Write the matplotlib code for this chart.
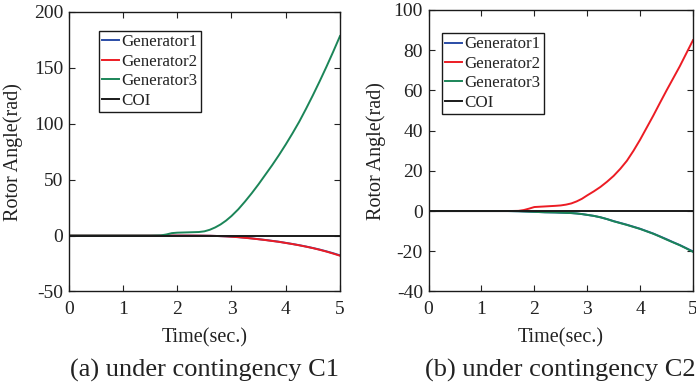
import matplotlib
matplotlib.use('Agg')
import matplotlib.pyplot as plt

plt.rcParams['font.family'] = ['Liberation Serif', 'DejaVu Serif']
plt.rcParams['axes.unicode_minus'] = False
plt.rcParams['text.color'] = '#222222'
plt.rcParams['axes.labelcolor'] = '#222222'
plt.rcParams['xtick.color'] = '#222222'
plt.rcParams['ytick.color'] = '#222222'

# time axis (sec.)
t = [0, 1.5, 1.7, 1.8, 1.9, 2.0, 2.2, 2.4, 2.5, 2.6, 2.7, 2.8, 2.9, 3.0,
     3.125, 3.25, 3.375, 3.5, 3.625, 3.75, 3.875, 4.0, 4.125, 4.25,
     4.375, 4.5, 4.625, 4.75, 4.875, 5.0]

# (a) contingency C1
a_gen1 = [0, 0, 0, 0, 0, 0, 0, -0.05, -0.1, -0.15, -0.3, -0.5, -0.7, -1.0,
          -1.4, -1.9, -2.5, -3.2, -3.9, -4.7, -5.5, -6.5, -7.5, -8.6,
          -9.8, -11.1, -12.5, -14.1, -15.8, -17.7]
a_gen2 = [0, 0, 0, 0, 0, 0, 0, -0.05, -0.1, -0.15, -0.3, -0.5, -0.7, -1.0,
          -1.4, -2.0, -2.6, -3.3, -4.0, -4.8, -5.6, -6.6, -7.6, -8.7,
          -9.9, -11.2, -12.7, -14.3, -16.1, -18.0]
a_gen3 = [0, 0, 0.2, 1.0, 2.2, 2.6, 2.9, 3.2, 3.8, 5.2, 7.3, 10.0, 13.4, 17.5,
          23.5, 30.5, 38.0, 46.0, 54.5, 63.0, 72.0, 81.5, 91.5, 102.0,
          113.5, 125.5, 138.0, 151.0, 164.5, 178.5]
a_coi = [0] * len(t)

# (b) contingency C2
b_gen1 = [0, 0, -0.1, -0.2, -0.3, -0.4, -0.6, -0.7, -0.8, -0.9, -1.0, -1.2, -1.5, -1.9,
          -2.4, -3.1, -4.0, -5.0, -5.9, -6.8, -7.8, -8.8, -10.0, -11.2,
          -12.6, -14.0, -15.5, -16.9, -18.5, -20.1]
b_gen2 = [0, 0, 0.1, 0.5, 1.2, 2.0, 2.3, 2.6, 2.8, 3.2, 3.8, 4.8, 6.1, 7.8,
          9.8, 12.0, 14.6, 17.5, 21.0, 25.0, 30.0, 35.5, 41.5, 47.5,
          53.8, 60.0, 66.0, 72.0, 78.5, 85.0]
b_gen3 = [0, 0, -0.1, -0.2, -0.3, -0.4, -0.6, -0.7, -0.8, -0.9, -1.0, -1.2, -1.5, -1.9,
          -2.4, -3.1, -4.0, -5.1, -6.0, -6.9, -7.9, -8.9, -10.1, -11.3,
          -12.7, -14.2, -15.6, -17.0, -18.6, -20.3]
b_coi = [0] * len(t)

names = ['Generator1', 'Generator2', 'Generator3', 'COI']
colors = ['#2a4ca6', '#ec1c24', '#1b8558', '#1a1a1a']

a_yticks = [-50, 0, 50, 100, 150, 200]
b_yticks = [-40, -20, 0, 20, 40, 60, 80, 100]
xticks = [0, 1, 2, 3, 4, 5]


def draw(ax, series, yticks, leg_xy, ylab_x, caption):
    for y, name, c in zip(series, names, colors):
        ax.plot(t, y, color=c, lw=1.4, label=name)
    ax.set_xlim(0, 5)
    ax.set_ylim(yticks[0], yticks[-1])
    ax.set_xticks(xticks)
    ax.set_yticks(yticks)
    ax.tick_params(direction='in', top=True, right=True, length=4,
                   labelsize=14, pad=4)
    ax.tick_params(axis='x', pad=6.5)
    ax.set_xlabel('Time(sec.)', fontsize=14.5, labelpad=8)
    ax.set_ylabel('Rotor Angle(rad)', fontsize=14.5)
    ax.yaxis.set_label_coords(ylab_x, 0.5)
    for s in ax.spines.values():
        s.set_linewidth(1.0)
        s.set_color('#1a1a1a')
    leg = ax.legend(loc='upper left', bbox_to_anchor=leg_xy, borderaxespad=0,
                    fontsize=12.2, handlelength=1.0, handletextpad=0.1,
                    labelspacing=0.2, borderpad=0.2, fancybox=False,
                    framealpha=1)
    leg.get_frame().set_edgecolor('#1a1a1a')
    leg.get_frame().set_linewidth(1.0)
    pos = ax.get_position()
    ax.figure.text((pos.x0 + pos.x1) / 2, 0.044, caption, fontsize=19,
                   ha='center', va='center')


fig = plt.figure(figsize=(6.96, 3.87), dpi=100)
ax1 = fig.add_axes([0.0987, 0.2468, 0.3898, 0.7222])
ax2 = fig.add_axes([0.6157, 0.2468, 0.3800, 0.7274])

draw(ax1, [a_gen1, a_gen2, a_gen3, a_coi], a_yticks, (0.112, 0.932), -0.168,
     '(a) under contingency C1')
draw(ax2, [b_gen1, b_gen2, b_gen3, b_coi], b_yticks, (0.051, 0.918), -0.16,
     '(b) under contingency C2')

fig.savefig('out.png', dpi=100)
